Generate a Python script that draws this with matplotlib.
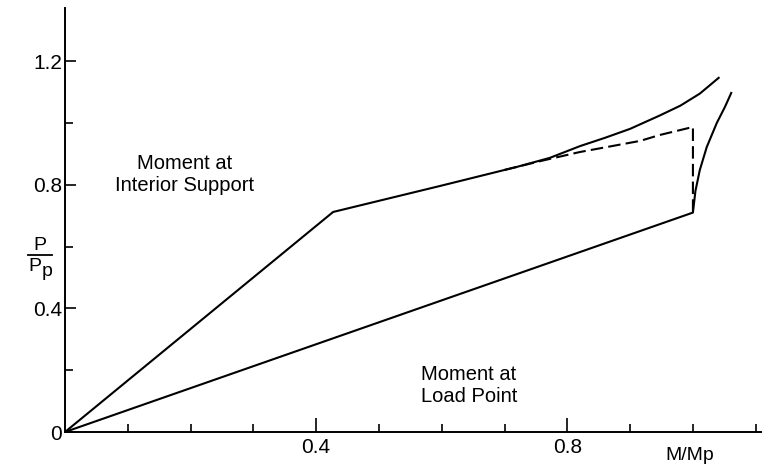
import matplotlib
matplotlib.use('Agg')
import matplotlib.pyplot as plt

plt.rcParams['font.family'] = ['Liberation Sans', 'DejaVu Sans']

# moment at interior support (solid upper curve)
m_int = [0.0, 0.427, 0.597, 0.72, 0.772, 0.82, 0.86, 0.90, 0.947, 0.98, 1.011, 1.041]
p_int = [0.0, 0.712, 0.796, 0.858, 0.887, 0.925, 0.952, 0.981, 1.024, 1.056, 1.095, 1.146]

# dashed branch
m_dash = [0.70, 0.76, 0.82, 0.916, 0.947, 1.0, 1.0]
p_dash = [0.848, 0.878, 0.906, 0.942, 0.961, 0.987, 0.71]

# moment at load point
m_load = [0.0, 1.0, 1.004, 1.011, 1.022, 1.038, 1.051, 1.061]
p_load = [0.0, 0.71, 0.78, 0.848, 0.922, 1.0, 1.052, 1.097]

x_major = [0.4, 0.8]
x_minor = [0.1, 0.2, 0.3, 0.5, 0.6, 0.7, 0.9, 1.0, 1.1]
y_major = [0, 0.4, 0.8, 1.2]
y_minor = [0.2, 0.6, 1.0]

fig = plt.figure(figsize=(7.62, 4.66), dpi=100)
ax = fig.add_axes([65 / 762, 34 / 466, 697 / 762, 424 / 466])

ax.plot(m_int, p_int, color='black', lw=1.5)
ax.plot(m_dash, p_dash, color='black', lw=1.5, ls=(0, (6, 2.5)))
ax.plot(m_load, p_load, color='black', lw=1.5)

ax.set_xlim(0, 1.11)
ax.set_ylim(0, 1.372)
for s in ['top', 'right']:
    ax.spines[s].set_visible(False)
for s in ['left', 'bottom']:
    ax.spines[s].set_linewidth(1.4)

ax.set_xticks(x_major)
ax.set_xticklabels(['0.4', '0.8'])
ax.set_xticks(x_minor, minor=True)
ax.set_yticks(y_major)
ax.set_yticklabels(['0', '0.4', '0.8', '1.2'])
ax.set_yticks(y_minor, minor=True)
ax.tick_params(axis='x', which='major', direction='in', length=10, width=1.2, pad=4, labelsize=15)
ax.tick_params(axis='x', which='minor', direction='in', length=6, width=1.2)
ax.tick_params(axis='y', which='major', direction='in', length=8, width=1.2, pad=2, labelsize=15)
ax.tick_params(axis='y', which='minor', direction='in', length=6, width=1.2)

# P / Pp written as a stacked fraction
ax.text(-0.036, 0.44, 'P', transform=ax.transAxes, ha='center', va='center', fontsize=14)
ax.plot([-0.053, -0.019], [0.417, 0.417], transform=ax.transAxes, color='black',
        lw=1.3, clip_on=False)
ax.text(-0.034, 0.39, 'P', transform=ax.transAxes, ha='right', va='center', fontsize=14)
ax.text(-0.034, 0.378, 'p', transform=ax.transAxes, ha='left', va='center', fontsize=14)

ax.text(0.897, -0.056, 'M/Mp', transform=ax.transAxes, ha='center', va='center',
        fontsize=14, clip_on=False)

ax.text(0.19, 0.832, 'Moment at\nInterior Support', ha='center', va='center',
        multialignment='center', fontsize=14.5, linespacing=1.2)
ax.text(0.567, 0.152, 'Moment at\nLoad Point', ha='left', va='center',
        multialignment='left', fontsize=14.5, linespacing=1.2)

fig.savefig('out.png', dpi=100)
